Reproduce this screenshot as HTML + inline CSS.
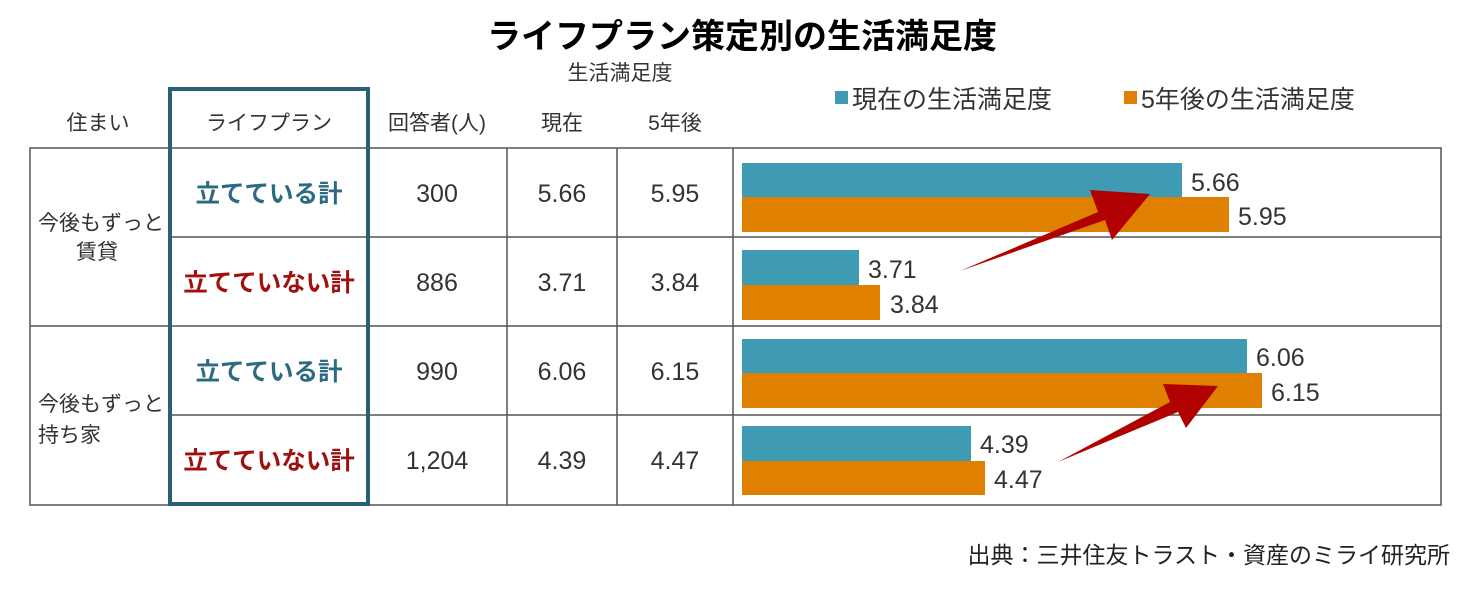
<!DOCTYPE html>
<html><head><meta charset="utf-8"><style>
body{margin:0;background:#fff;width:1470px;height:590px;overflow:hidden;font-family:"Liberation Sans","Noto Sans CJK JP",sans-serif;color:#333}
</style></head><body>
<svg width="1470" height="590" xmlns="http://www.w3.org/2000/svg" style="font-family:'Liberation Sans','Noto Sans CJK JP',sans-serif">
<text x="742" y="48" text-anchor="middle" font-size="34" font-weight="bold" fill="#000">ライフプラン策定別の生活満足度</text>
<text x="620" y="80" text-anchor="middle" font-size="21" fill="#333">生活満足度</text>
<g font-size="21" fill="#333" text-anchor="middle">
<text x="98" y="130">住まい</text><text x="269" y="130">ライフプラン</text><text x="437" y="130">回答者(人)</text><text x="562" y="130">現在</text><text x="675" y="130">5年後</text>
</g>
<rect x="835" y="91" width="13" height="13" fill="#3f9ab4"/><text x="852" y="108" font-size="25" fill="#333">現在の生活満足度</text>
<rect x="1124" y="91" width="13" height="13" fill="#e08000"/><text x="1141" y="108" font-size="25" fill="#333">5年後の生活満足度</text>
<g stroke="#555" stroke-width="1.5" fill="none">
<rect x="30" y="148" width="1411" height="357"/>
<line x1="169" y1="237" x2="1441" y2="237"/><line x1="30" y1="326" x2="1441" y2="326"/><line x1="169" y1="415" x2="1441" y2="415"/>
<line x1="507" y1="148" x2="507" y2="505"/><line x1="617" y1="148" x2="617" y2="505"/><line x1="733" y1="148" x2="733" y2="505"/>
</g>
<rect x="170" y="89" width="198" height="415" fill="none" stroke="#2b5f75" stroke-width="4"/>
<g font-size="21" fill="#333">
<text x="38" y="230">今後もずっと</text><text x="76" y="259">賃貸</text>
<text x="38" y="411">今後もずっと</text><text x="38" y="442">持ち家</text>
</g>
<g font-size="24.5" font-weight="bold" text-anchor="middle">
<text x="269" y="202" fill="#2b6a80">立てている計</text>
<text x="269" y="291" fill="#a01010">立てていない計</text>
<text x="269" y="380" fill="#2b6a80">立てている計</text>
<text x="269" y="469" fill="#a01010">立てていない計</text>
</g>
<g font-size="25" fill="#333" text-anchor="middle">
<text x="437" y="202">300</text><text x="562" y="202">5.66</text><text x="675" y="202">5.95</text>
<text x="437" y="291">886</text><text x="562" y="291">3.71</text><text x="675" y="291">3.84</text>
<text x="437" y="380">990</text><text x="562" y="380">6.06</text><text x="675" y="380">6.15</text>
<text x="437" y="469">1,204</text><text x="562" y="469">4.39</text><text x="675" y="469">4.47</text>
</g>
<g>
<rect x="742" y="163" width="440" height="34" fill="#3f9ab4"/><rect x="742" y="197" width="487" height="35" fill="#e08000"/>
<rect x="742" y="250" width="117" height="35" fill="#3f9ab4"/><rect x="742" y="285" width="138" height="35" fill="#e08000"/>
<rect x="742" y="339" width="505" height="34" fill="#3f9ab4"/><rect x="742" y="373" width="520" height="35" fill="#e08000"/>
<rect x="742" y="426" width="229" height="35" fill="#3f9ab4"/><rect x="742" y="461" width="243" height="34" fill="#e08000"/>
</g>
<g font-size="25" fill="#333">
<text x="1191" y="191">5.66</text><text x="1238" y="225">5.95</text>
<text x="868" y="278">3.71</text><text x="890" y="313">3.84</text>
<text x="1256" y="366">6.06</text><text x="1271" y="401">6.15</text>
<text x="980" y="453">4.39</text><text x="994" y="488">4.47</text>
</g>
<polygon points="960,271 1098,212 1090,190 1150,194 1112,240 1105,220" fill="#b00000"/>
<polygon points="1058,462 1170,402 1163,384 1218,386 1186,428 1178,412" fill="#b00000"/>
<text x="1450" y="563" text-anchor="end" font-size="23" fill="#222">出典：三井住友トラスト・資産のミライ研究所</text>
</svg>
</body></html>
